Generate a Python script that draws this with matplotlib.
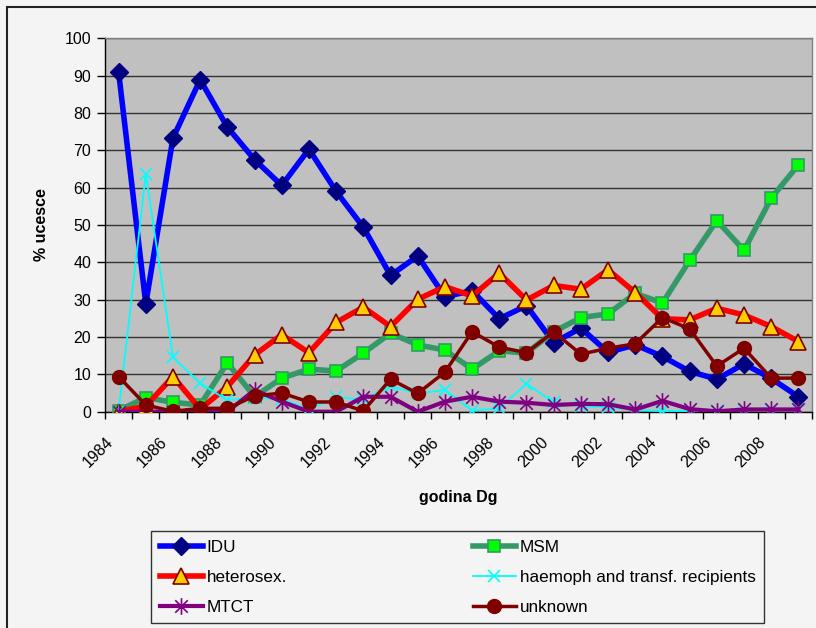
import matplotlib
matplotlib.use("Agg")
import matplotlib.pyplot as plt
import matplotlib.transforms as mtransforms
from matplotlib.path import Path
from matplotlib.patches import Rectangle

years = list(range(1984, 2010))

idu = [91.0, 28.9, 73.3, 88.9, 76.2, 67.5, 60.6, 70.3, 59.0, 49.4, 36.5, 41.7, 30.8,
       32.4, 24.9, 28.4, 18.5, 22.4, 15.9, 17.9, 14.8, 10.8, 8.7, 12.8, 8.9, 4.0]
msm = [0.3, 3.8, 2.5, 1.8, 13.1, 4.0, 9.0, 11.4, 10.9, 15.7, 21.0, 17.9, 16.5,
       11.4, 16.3, 15.7, 21.4, 25.2, 26.2, 31.7, 29.1, 40.5, 51.2, 43.2, 57.2, 66.1]
hetero = [0.0, 1.5, 9.4, 0.7, 6.7, 15.2, 20.6, 15.8, 23.9, 28.0, 22.8, 30.1, 33.5,
          31.0, 37.1, 29.9, 33.8, 32.8, 38.0, 31.9, 24.9, 24.6, 27.7, 25.9, 22.8, 18.8]
haemoph = [0.0, 63.7, 14.6, 7.6, 3.1, 3.8, 3.4, 0.6, 3.9, 3.3, 6.8, 4.9, 5.8,
           0.3, 0.9, 7.5, 2.5, 1.5, 1.2, 0.5, 0.2, 0.2, 0.2, 0.5, 0.5, 0.5]
mtct = [0.0, 0.0, 0.0, 0.0, 0.0, 5.8, 2.7, 0.0, 0.0, 4.0, 4.0, 0.0, 2.7,
        4.0, 2.7, 2.4, 1.8, 2.1, 2.0, 0.6, 2.9, 0.7, 0.1, 0.6, 0.6, 0.6]
unknown = [9.4, 1.8, 0.1, 0.9, 0.9, 4.2, 5.0, 2.6, 2.6, 0.2, 8.7, 4.9, 10.6,
           21.4, 17.3, 15.8, 21.4, 15.4, 17.0, 18.2, 25.2, 22.2, 12.2, 17.0, 9.0, 9.0]

series_names = ["IDU", "MSM", "heterosex.", "haemoph and transf. recipients", "MTCT", "unknown"]
tick_years = list(range(1984, 2009, 2))
yticks = list(range(0, 101, 10))

plt.rcParams['font.family'] = ['Liberation Sans', 'DejaVu Sans']

W, H = 816, 628
fig = plt.figure(figsize=(W / 100, H / 100), dpi=100)
fig.patch.set_facecolor('#F4F4F4')

# outer chart-area border (left/top visible)
fig.patches.append(Rectangle((7 / W, -0.1), 1.2, (H - 7) / H + 0.1, transform=fig.transFigure,
                             fill=False, edgecolor='#222222', linewidth=1.5))

ax = fig.add_axes([105 / W, 1 - 411.7 / H, (812 - 105) / W, (411.7 - 38.3) / H])
ax.set_facecolor('#C0C0C0')

asterisk = Path([(0, -1), (0, 1), (-0.75, -0.75), (0.75, 0.75), (-0.75, 0.75), (0.75, -0.75)],
                [Path.MOVETO, Path.LINETO, Path.MOVETO, Path.LINETO, Path.MOVETO, Path.LINETO])

h_idu, = ax.plot(years, idu, color='#0000FF', lw=4, marker='D', ms=9,
                 mfc='#000080', mec='#000080', label=series_names[0], zorder=3)
h_msm, = ax.plot(years, msm, color='#339966', lw=4, marker='s', ms=8.5,
                 mfc='#00FF00', mec='#339966', mew=1.2, label=series_names[1], zorder=3)
h_het, = ax.plot(years, hetero, color='#FF0000', lw=4, marker='^', ms=12,
                 mfc='#FFCC00', mec='#800000', mew=1.2, label=series_names[2], zorder=3)
h_hae, = ax.plot(years, haemoph, color='#00FFFF', lw=1.3, marker='x', ms=8,
                 mec='#00FFFF', mew=1.2, label=series_names[3], zorder=3)
h_mtct, = ax.plot(years, mtct, color='#800080', lw=3, marker=asterisk, ms=12,
                  mec='#800080', mfc='none', mew=1.2, label=series_names[4], zorder=3)
h_unk, = ax.plot(years, unknown, color='#800000', lw=2.5, marker='o', ms=10,
                 mfc='#800000', mec='#800000', label=series_names[5], zorder=3)

ax.set_xlim(1983.5, 2009.5)
ax.set_ylim(0, 100)
ax.set_yticks(yticks)
ax.set_yticklabels([str(v) for v in yticks], fontsize=11.5)
ax.yaxis.grid(True, color='#333333', linewidth=1)
ax.set_axisbelow(True)
ax.tick_params(axis='y', direction='out', length=6, width=1, colors='black', pad=4)

ax.set_xticks(tick_years)
ax.set_xticklabels([str(y) for y in tick_years], fontsize=11.5, rotation=45,
                   ha='right', va='center', rotation_mode='anchor')
ax.set_xticks([y - 0.5 for y in years] + [2009.5], minor=True)
ax.tick_params(axis='x', which='major', length=0, pad=0)
ax.tick_params(axis='x', which='minor', direction='out', length=5, width=1, colors='black')
offset = mtransforms.ScaledTranslation(-0.08, -0.28, fig.dpi_scale_trans)
for lab in ax.get_xticklabels():
    lab.set_transform(lab.get_transform() + offset)

for s in ['top', 'right']:
    ax.spines[s].set_color('#808080')
    ax.spines[s].set_linewidth(1)
for s in ['left', 'bottom']:
    ax.spines[s].set_color('black')
    ax.spines[s].set_linewidth(1)

ax.set_ylabel('% ucesce', fontsize=11.5, fontweight='bold')
ax.yaxis.set_label_coords(-0.079, 0.5)
ax.set_xlabel('godina Dg', fontsize=11.5, fontweight='bold', va='top')
ax.xaxis.set_label_coords(0.5, -0.21)

handles = [h_idu, h_het, h_mtct, h_msm, h_hae, h_unk]
leg = fig.legend(handles=handles, labels=[h.get_label() for h in handles],
                 loc='upper left', bbox_to_anchor=(151 / W, 1 - 623 / H, (764 - 151) / W, (623 - 531) / H),
                 mode='expand', ncol=2, borderaxespad=0, fontsize=12.3, frameon=True,
                 fancybox=False, edgecolor='#333333', facecolor='#F4F4F4', framealpha=1,
                 handlelength=2.55, handletextpad=0.2, labelspacing=0.88, borderpad=0.5)
leg.get_frame().set_linewidth(1)

fig.savefig('out.png', dpi=100, facecolor=fig.get_facecolor())
